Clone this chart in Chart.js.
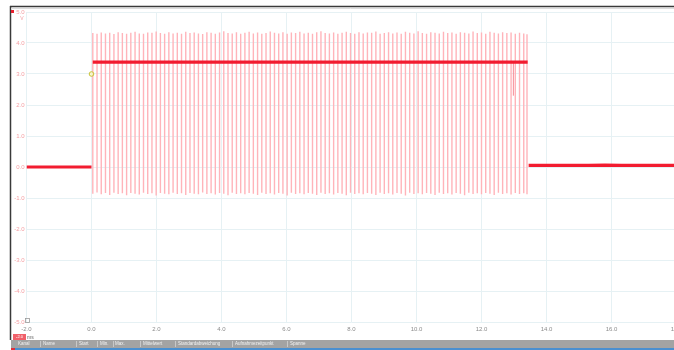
<!DOCTYPE html>
<html>
<head>
<meta charset="utf-8">
<script src="https://cdn.jsdelivr.net/npm/chart.js@4.4.1/dist/chart.umd.min.js"></script>
<style>
  html, body { margin: 0; padding: 0; background: #fff; overflow: hidden; }
  #wrap { position: absolute; left: 0; top: 0; width: 690px; height: 350px; }
</style>
</head>
<body>
<div id="wrap"><canvas id="c" width="690" height="350"></canvas></div>
<script>
// Axis ticks
const xTicks = [-2, 0, 2, 4, 6, 8, 10, 12, 14, 16, 18];
const yTicks = [-5, -4, -3, -2, -1, 0, 1, 2, 3, 4, 5];

// Averaged trace (null = break between segments)
const traceT = [-2.0, 0.0, 0.0, 0.04, 13.42, 13.42, 13.45, 13.9, 14.4, 14.9, 15.3, 15.8, 16.3, 16.8, 17.3, 17.8, 18.0];
const traceV = [0, 0, null, 3.38, 3.38, null, 0.05, 0.055, 0.05, 0.055, 0.05, 0.06, 0.05, 0.055, 0.05, 0.055, 0.05];

// Switching pulses: time, peak, trough
const pulseT = [
  0.04,0.17,0.30,0.43,0.56,0.69,0.82,0.95,1.08,1.21,1.34,1.47,1.60,1.73,1.86,1.99,2.12,2.25,2.38,2.51,
  2.64,2.77,2.90,3.03,3.16,3.29,3.42,3.55,3.68,3.81,3.94,4.07,4.20,4.33,4.46,4.59,4.72,4.85,4.98,5.11,
  5.24,5.37,5.50,5.63,5.76,5.89,6.02,6.15,6.28,6.41,6.54,6.67,6.80,6.93,7.06,7.19,7.32,7.45,7.58,7.71,
  7.84,7.97,8.10,8.23,8.36,8.49,8.62,8.75,8.88,9.01,9.14,9.27,9.40,9.53,9.66,9.79,9.92,10.05,10.18,10.31,
  10.44,10.57,10.70,10.83,10.96,11.09,11.22,11.35,11.48,11.61,11.74,11.87,12.00,12.13,12.26,12.39,12.52,12.65,12.78,12.91,
  13.04,13.17,13.30,13.40
];
const pulseHigh = [
  4.32,4.30,4.34,4.31,4.33,4.29,4.35,4.32,4.30,4.33,4.36,4.31,4.30,4.34,4.33,4.37,4.32,4.30,4.35,4.31,
  4.33,4.30,4.36,4.32,4.34,4.31,4.29,4.35,4.33,4.30,4.34,4.38,4.32,4.31,4.35,4.30,4.33,4.36,4.31,4.34,
  4.30,4.32,4.37,4.33,4.31,4.35,4.30,4.34,4.32,4.36,4.31,4.33,4.30,4.35,4.38,4.32,4.31,4.34,4.30,4.33,
  4.36,4.32,4.30,4.35,4.31,4.34,4.33,4.37,4.30,4.32,4.35,4.31,4.34,4.30,4.36,4.33,4.31,4.38,4.32,4.30,
  4.35,4.33,4.31,4.36,4.32,4.34,4.30,4.35,4.33,4.31,4.37,4.32,4.34,4.30,4.36,4.33,4.31,4.35,4.32,4.34,
  4.30,4.33,4.31,4.28
];
const pulseLow = [
  -0.86,-0.82,-0.88,-0.84,-0.90,-0.83,-0.87,-0.85,-0.91,-0.84,-0.86,-0.89,-0.83,-0.87,-0.85,-0.92,-0.84,-0.86,-0.88,-0.83,
  -0.87,-0.85,-0.90,-0.84,-0.86,-0.88,-0.82,-0.87,-0.85,-0.89,-0.84,-0.86,-0.91,-0.83,-0.87,-0.85,-0.88,-0.84,-0.86,-0.90,
  -0.83,-0.87,-0.85,-0.89,-0.84,-0.86,-0.92,-0.83,-0.87,-0.85,-0.88,-0.84,-0.86,-0.90,-0.83,-0.87,-0.85,-0.89,-0.84,-0.86,
  -0.91,-0.83,-0.87,-0.85,-0.88,-0.84,-0.86,-0.90,-0.83,-0.87,-0.85,-0.89,-0.84,-0.86,-0.92,-0.83,-0.87,-0.85,-0.88,-0.84,
  -0.86,-0.90,-0.83,-0.87,-0.85,-0.89,-0.84,-0.86,-0.91,-0.83,-0.87,-0.85,-0.88,-0.84,-0.86,-0.90,-0.83,-0.87,-0.85,-0.89,
  -0.84,-0.87,-0.85,-0.88
];

// Short dropout near the end of the high phase
const dropT = [12.98];
const dropHigh = [3.38];
const dropLow = [2.3];

// Cursor marker
const cursorT = [0.0];
const cursorV = [3.0];

// Toolbar column captions
const toolbarItems = ['Kanal', 'Name', 'Start', 'Min.', 'Max.', 'Mittelwert', 'Standardabweichung', 'Aufnahmezeitpunkt', 'Spanne'];
const toolbarX = [18, 43, 79, 100, 115, 143, 178, 235, 290];
const toolbarSep = [40, 76, 97, 113, 140, 175, 232, 287];

// Build vertical segments separated by gaps
function verticals(ts, his, los) {
  const out = [];
  ts.forEach((t, i) => {
    out.push({ x: t, y: los[i] }, { x: t, y: his[i] }, { x: t, y: null });
  });
  return out;
}

const traceData = traceT.map((t, i) => ({ x: t, y: traceV[i] }));
const pulseData = verticals(pulseT, pulseHigh, pulseLow);
const dropData = verticals(dropT, dropHigh, dropLow);
const cursorData = cursorT.map((t, i) => ({ x: t, y: cursorV[i] }));

const fmt = v => (v === 0 ? '0.0' : v.toFixed(1));

const frame = {
  id: 'frame',
  afterDraw(chart) {
    const ctx = chart.ctx;
    ctx.save();
    // outer frame: top and left edges
    ctx.strokeStyle = '#3a3a3a';
    ctx.lineWidth = 1.5;
    ctx.beginPath();
    ctx.moveTo(10, 6.5); ctx.lineTo(690, 6.5);
    ctx.moveTo(10.5, 6); ctx.lineTo(10.5, 340);
    ctx.stroke();
    ctx.strokeStyle = '#dcdcdc';
    ctx.lineWidth = 1;
    ctx.beginPath();
    ctx.moveTo(11, 8.5); ctx.lineTo(690, 8.5);
    ctx.stroke();

    // channel swatch and unit
    ctx.fillStyle = '#e8202e';
    ctx.fillRect(11, 10, 3, 3);
    ctx.fillStyle = '#f4a0a4';
    ctx.font = '5px Arial';
    ctx.textAlign = 'center';
    ctx.textBaseline = 'middle';
    ctx.fillText('V', 22, 19);

    // small icon by the lower-left corner
    ctx.strokeStyle = '#9a9a9a';
    ctx.lineWidth = 0.8;
    ctx.strokeRect(25.5, 318.5, 4, 4);

    // time unit badge
    ctx.fillStyle = '#f0606a';
    ctx.fillRect(13, 334, 13, 6);
    ctx.fillStyle = '#ffffff';
    ctx.font = '4px Arial';
    ctx.fillText('-2.0', 19.5, 337.2);
    ctx.fillStyle = '#666';
    ctx.font = '5px Arial';
    ctx.textAlign = 'left';
    ctx.fillText('ms', 27, 337.2);

    // status toolbar
    ctx.fillStyle = '#a3a3a3';
    ctx.fillRect(11, 340, 680, 8);
    ctx.fillStyle = '#4a8fd0';
    ctx.fillRect(11, 348, 680, 2);
    ctx.fillStyle = '#e0303a';
    ctx.fillRect(11, 348, 4, 2);
    ctx.strokeStyle = '#c8c8c8';
    ctx.lineWidth = 1;
    ctx.beginPath();
    toolbarSep.forEach(x => { ctx.moveTo(x + 0.5, 341); ctx.lineTo(x + 0.5, 347); });
    ctx.stroke();
    ctx.fillStyle = '#f2f2f2';
    ctx.font = '4.5px Arial';
    ctx.textAlign = 'left';
    ctx.textBaseline = 'middle';
    toolbarItems.forEach((s, i) => ctx.fillText(s, toolbarX[i], 344.2));
    ctx.restore();
  }
};

new Chart(document.getElementById('c'), {
  type: 'line',
  data: {
    datasets: [
      {
        data: pulseData,
        borderColor: '#ffb4ba',
        borderWidth: 1.4,
        pointRadius: 0,
        spanGaps: false,
        tension: 0,
        order: 3
      },
      {
        data: dropData,
        borderColor: '#f78a94',
        borderWidth: 1,
        pointRadius: 0,
        spanGaps: false,
        order: 2
      },
      {
        data: traceData,
        borderColor: '#f21c30',
        borderWidth: 3.2,
        pointRadius: 0,
        spanGaps: false,
        tension: 0,
        order: 1
      },
      {
        data: cursorData,
        showLine: false,
        pointRadius: 2.3,
        pointBorderWidth: 1,
        pointBorderColor: '#c9c23a',
        pointBackgroundColor: 'rgba(250, 250, 190, 0.7)',
        order: 0
      }
    ]
  },
  options: {
    responsive: false,
    animation: false,
    events: [],
    layout: { padding: { left: 0, right: 13.5, top: 12, bottom: 16 } },
    plugins: { legend: { display: false }, tooltip: { enabled: false } },
    scales: {
      x: {
        type: 'linear',
        min: -2,
        max: 18,
        afterBuildTicks(scale) { scale.ticks = xTicks.map(v => ({ value: v })); },
        afterFit(scale) { scale.height = 12; },
        border: { display: false },
        grid: { color: '#e6f1f4', lineWidth: 1, drawTicks: false },
        ticks: {
          padding: 4,
          color: '#8c8c8c',
          font: { size: 6, family: 'Arial' },
          maxRotation: 0,
          autoSkip: false,
          callback: v => fmt(v)
        }
      },
      y: {
        type: 'linear',
        min: -5,
        max: 5,
        afterBuildTicks(scale) { scale.ticks = yTicks.map(v => ({ value: v })); },
        afterFit(scale) { scale.width = 26.5; },
        border: { display: false },
        grid: { color: '#e6f1f4', lineWidth: 1, drawTicks: false },
        ticks: {
          padding: 2,
          color: '#f4a0a4',
          font: { size: 6, family: 'Arial' },
          autoSkip: false,
          callback: v => fmt(v)
        }
      }
    }
  },
  plugins: [frame]
});
</script>
</body>
</html>
